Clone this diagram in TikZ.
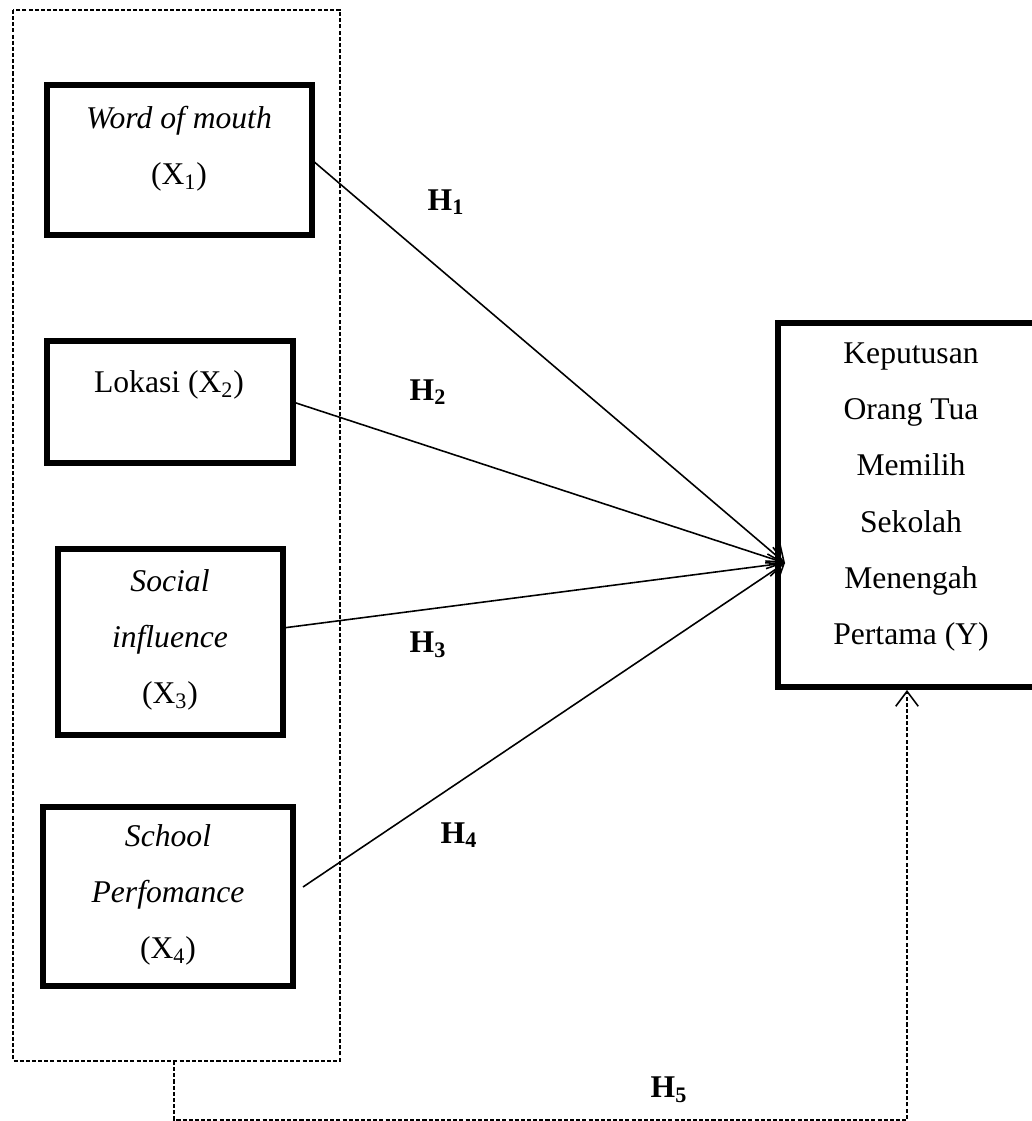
\documentclass[tikz,border=0pt]{standalone}
\usepackage{fontspec}
\setmainfont{Liberation Serif}
\usetikzlibrary{calc, positioning, arrows.meta}

\begin{document}
\begin{tikzpicture}[x=0.02cm, y=-0.02cm,
    varbox/.style={draw, line width=3pt, inner sep=0pt, outer sep=0pt},
    vartext/.style={align=center, font=\fontsize{18}{32}\selectfont},
    hlabel/.style={font=\fontsize{18}{22}\selectfont\bfseries},
    pathline/.style={line width=0.9pt, -{Straight Barb[length=0.3cm, width=0.45cm, line width=0.9pt]}},
    groupline/.style={line width=0.7pt, dash pattern=on 2.3pt off 1.2pt}]
    \useasboundingbox (0,0) rectangle (1031,1121);

    % Define the points
    \coordinate (tip) at (785,563);
    \coordinate (G) at (174,1061);
    \coordinate (corner) at (174,1120);

    % Draw the variable boxes
    \node[varbox, minimum width=5.3cm, minimum height=3cm] (X1) at (179.5,160) {};
    \node[varbox, minimum width=4.92cm, minimum height=2.44cm] (X2) at (170,402) {};
    \node[varbox, minimum width=4.5cm, minimum height=3.72cm] (X3) at (170.5,642) {};
    \node[varbox, minimum width=5cm, minimum height=3.58cm] (X4) at (168,896.5) {};
    \node[varbox, minimum width=5.32cm, minimum height=7.28cm] (Y) at (911,505) {};

    % Place the texts inside the boxes
    \node[vartext] (X1t) at (179,149) {\textit{Word of mouth}\\(X\textsubscript{1})};
    \node[vartext] (X2t) at (169,385) {Lokasi (X\textsubscript{2})};
    \node[vartext] (X3t) at (170,640) {\textit{Social}\\\textit{influence}\\(X\textsubscript{3})};
    \node[vartext] (X4t) at (168,895) {\textit{School}\\\textit{Perfomance}\\(X\textsubscript{4})};
    \node[vartext] (Yt) at (911,497) {Keputusan\\Orang Tua\\Memilih\\Sekolah\\Menengah\\Pertama (Y)};

    % Draw the dashed group and the paths
    \draw[groupline] (13,10) rectangle (340,1061);
    \draw[pathline] (X1.east) -- (tip);
    \draw[pathline] (X2.east) -- (tip);
    \draw[pathline] ($(X3.east)+(0,-14)$) -- (tip);
    \draw[pathline] ($(X4.east)+(10,-9.5)$) -- (tip);
    \draw[groupline, -{Straight Barb[length=0.3cm, width=0.45cm, line width=0.9pt]}] (G) -- (corner) -| ($(Y.south)+(-4,3)$);

    % Hypothesis labels
    \node[hlabel] (H1) at (446,202) {H\textsubscript{1}};
    \node[hlabel] (H2) at (428,392) {H\textsubscript{2}};
    \node[hlabel] (H3) at (428,645) {H\textsubscript{3}};
    \node[hlabel] (H4) at (459,835) {H\textsubscript{4}};
    \node[hlabel] (H5) at (669,1090) {H\textsubscript{5}};

\end{tikzpicture}
\end{document}
